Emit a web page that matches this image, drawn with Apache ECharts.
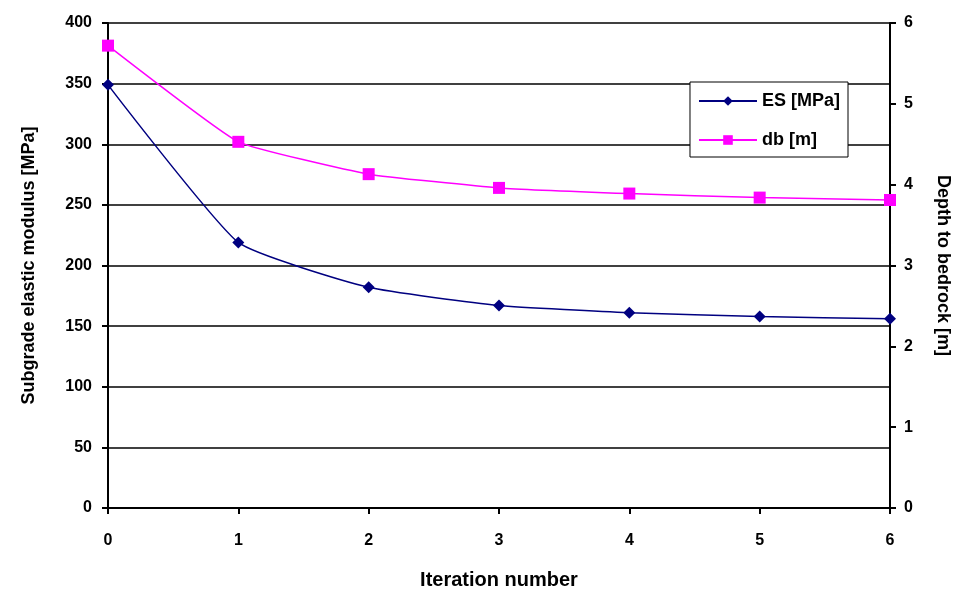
<!DOCTYPE html>
<html><head><meta charset="utf-8">
<script src="https://cdn.jsdelivr.net/npm/echarts@6/dist/echarts.min.js"></script>
<style>html,body{margin:0;padding:0;background:#fff}#c{width:960px;height:590px}</style>
</head><body><div id="c"></div>
<script>
const iterations = [0, 1, 2, 3, 4, 5, 6];
const esValues = [349, 219, 182, 167, 161, 158, 156];
const dbValues = [5.72, 4.53, 4.13, 3.96, 3.89, 3.84, 3.81];
const seriesNames = ['ES [MPa]', 'db [m]'];

const font = 'Liberation Sans, Arial, sans-serif';
const chart = echarts.init(document.getElementById('c'));
chart.setOption({
  animation: false,
  backgroundColor: '#fff',
  grid: { left: 108, right: 70, top: 23, bottom: 82, containLabel: false, outerBoundsMode: 'none' },
  legend: {
    right: 112, top: 82, orient: 'vertical',
    backgroundColor: '#fff', borderColor: '#000', borderWidth: 1,
    padding: [10, 8, 8, 8], itemGap: 21, itemWidth: 58, itemHeight: 12,
    textStyle: { fontFamily: font, fontWeight: 'bold', fontSize: 18, color: '#000' },
    data: seriesNames
  },
  xAxis: {
    type: 'value', min: 0, max: 6, interval: 1,
    name: 'Iteration number', nameLocation: 'middle', nameGap: 62,
    nameTextStyle: { fontFamily: font, fontWeight: 'bold', fontSize: 20, color: '#000' },
    axisLine: { lineStyle: { color: '#000', width: 2 } },
    axisTick: { show: true, length: 6, lineStyle: { color: '#000', width: 2 } },
    axisLabel: { fontFamily: font, fontWeight: 'bold', fontSize: 16, color: '#000', margin: 25 },
    splitLine: { show: false }
  },
  yAxis: [{
    type: 'value', min: 0, max: 400, interval: 50,
    name: 'Subgrade elastic modulus [MPa]', nameLocation: 'middle', nameGap: 70, nameRotate: 90,
    nameTextStyle: { fontFamily: font, fontWeight: 'bold', fontSize: 18, color: '#000' },
    axisLine: { show: true, lineStyle: { color: '#000', width: 2 } },
    axisTick: { show: true, length: 6, lineStyle: { color: '#000', width: 2 } },
    axisLabel: { fontFamily: font, fontWeight: 'bold', fontSize: 16, color: '#000', margin: 16 },
    splitLine: { show: true, lineStyle: { color: '#000', width: 1.5 } }
  }, {
    type: 'value', min: 0, max: 6, interval: 1, position: 'right',
    name: 'Depth to bedrock [m]', nameLocation: 'middle', nameGap: 44, nameRotate: -90,
    nameTextStyle: { fontFamily: font, fontWeight: 'bold', fontSize: 18, color: '#000' },
    axisLine: { show: true, lineStyle: { color: '#000', width: 2 } },
    axisTick: { show: true, length: 6, lineStyle: { color: '#000', width: 2 } },
    axisLabel: { fontFamily: font, fontWeight: 'bold', fontSize: 16, color: '#000', margin: 14 },
    splitLine: { show: false }
  }],
  series: [{
    name: seriesNames[0], type: 'line', yAxisIndex: 0, smooth: 0.15,
    data: iterations.map((x, i) => [x, esValues[i]]),
    symbol: 'diamond', symbolSize: 12,
    lineStyle: { color: '#000080', width: 1.5 },
    itemStyle: { color: '#000080' }
  }, {
    name: seriesNames[1], type: 'line', yAxisIndex: 1, smooth: 0.12,
    data: iterations.map((x, i) => [x, dbValues[i]]),
    symbol: 'rect', symbolSize: 12,
    lineStyle: { color: '#ff00ff', width: 1.5 },
    itemStyle: { color: '#ff00ff' }
  }]
});
</script></body></html>
